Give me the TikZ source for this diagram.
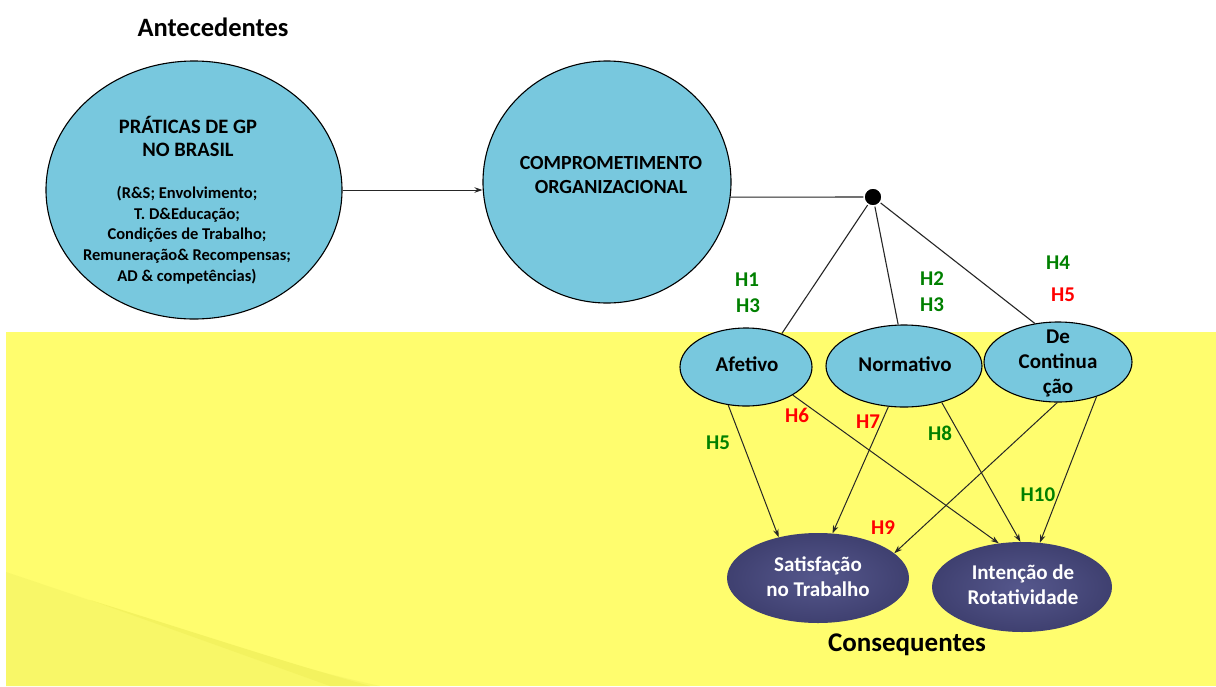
\documentclass[tikz,border=0pt]{standalone}
\usepackage{fontspec}
\setmainfont{Carlito}
\usetikzlibrary{arrows.meta,shapes.geometric}

\definecolor{skyfill}{HTML}{78C8DE}
\definecolor{navyin}{HTML}{55578C}
\definecolor{navyout}{HTML}{3F4070}
\definecolor{bandyellow}{HTML}{FFFD6E}
\definecolor{bandshade}{HTML}{F8F768}
\definecolor{bandstripe}{HTML}{F3F25F}
\definecolor{hgreen}{HTML}{008000}
\definecolor{hred}{HTML}{FF0000}

\tikzset{
  skyshape/.style={ellipse, draw=black, line width=1.1pt, fill=skyfill, inner sep=0pt},
  navyshape/.style={ellipse, inner sep=0pt, inner color=navyin, outer color=navyout},
  link/.style={draw=black!85, line width=1.1pt},
  arr/.style={draw=black!85, line width=1pt, -{Stealth[length=8pt,width=5.5pt]}},
  txt/.style={align=center, inner sep=0pt, font=\bfseries\fontsize{#1}{#1}\selectfont},
  hgood/.style={txt=21, text=hgreen},
  hbad/.style={txt=21, text=hred},
}

\begin{document}
\begin{tikzpicture}[x=1pt,y=-1pt]
\useasboundingbox (0,0) rectangle (1216,686);
\fill[white] (0,0) rectangle (1216,686);

% yellow band of the lower half, with a faint wave at its bottom left
\fill[bandyellow] (6,332) rectangle (1216,686);
\fill[bandshade] (6,572) .. controls (120,610) and (260,660) .. (380,686) -- (6,686) -- cycle;
\fill[bandstripe] (90,600) .. controls (180,632) and (280,668) .. (330,686) -- (370,686)
  .. controls (290,664) and (200,634) .. (90,600) -- cycle;

% headings
\node[txt=26.5] (antec) at (213,27) {Antecedentes};
\node[txt=27] (conseq) at (907,645) {Consequentes};

% antecedent
\node[skyshape, minimum width=296pt, minimum height=258pt] (prat) at (194,190) {};
\node[font=\bfseries\fontsize{20.5}{23.5}\selectfont, align=center, inner sep=0pt] (pratT) at (188,136.5)
  {PRÁTICAS DE GP\\NO BRASIL};
\node[font=\bfseries\fontsize{16.5}{20.8}\selectfont, align=center, inner sep=0pt] (pratS) at (187,235)
  {(R\&S; Envolvimento;\\T. D\&Educação;\\Condições de Trabalho;\\Remuneração\& Recompensas;\\AD \& competências)};

% commitment
\node[skyshape, minimum width=248pt, minimum height=242pt] (comp) at (607,182) {};
\node[font=\bfseries\fontsize{20}{24}\selectfont, align=center, inner sep=0pt] (compT) at (611,175)
  {COMPROMETIMENTO\\ORGANIZACIONAL};

% junction point
\node[circle, fill=black, draw=white, line width=1.5pt, minimum size=18pt, inner sep=0pt] (dot) at (873,197) {};

% the three components
\node[skyshape, minimum width=132pt, minimum height=78pt] (afet) at (746,367) {};
\node[txt=21] (afetT) at (747,364) {Afetivo};
\node[skyshape, minimum width=156pt, minimum height=82pt] (norm) at (904,366) {};
\node[txt=21] (normT) at (905,364) {Normativo};
\node[skyshape, minimum width=148pt, minimum height=80pt] (cont) at (1058,362) {};
\node[font=\bfseries\fontsize{21}{25}\selectfont, align=center, inner sep=0pt] (contT) at (1058,363)
  {De\\Continua\\ção};

% consequences
\node[navyshape, minimum width=182pt, minimum height=90pt] (sat) at (818,578) {};
\node[font=\bfseries\fontsize{21}{25}\selectfont, align=center, inner sep=0pt, text=white] (satT) at (818,577)
  {Satisfação\\no Trabalho};
\node[navyshape, minimum width=180pt, minimum height=90pt] (int) at (1022,587) {};
\node[font=\bfseries\fontsize{21}{25}\selectfont, align=center, inner sep=0pt, text=white] (intT) at (1023,585)
  {Intenção de\\Rotatividade};

% connectors
\draw[arr] (prat.east) -- (prat.east -| comp.west);
\draw[link] (comp.-7) -- (dot);
\draw[link] (dot) -- (afet.43);
\draw[link] (dot) -- (norm.98);
\draw[link] (dot) -- (cont.121);

\draw[arr] (afet.-115) -- (sat.134);
\draw[arr] (afet.-31) -- (int.118);
\draw[arr] (norm.-111) -- (sat.72);
\draw[arr] (norm.-44) -- (int.92);
\draw[arr] (cont.-91) -- (sat.18);
\draw[arr] (cont.-42) -- (int.68);

% hypothesis labels
\node[hgood] (h1) at (747,280) {H1};
\node[hgood] (h3a) at (748,306) {H3};
\node[hgood] (h2) at (932,279) {H2};
\node[hgood] (h3b) at (932,305) {H3};
\node[hgood] (h4) at (1058,263) {H4};
\node[hbad] (h5a) at (1063,295) {H5};
\node[hgood] (h5b) at (718,443) {H5};
\node[hbad] (h6) at (797,415) {H6};
\node[hbad] (h7) at (868,422) {H7};
\node[hgood] (h8) at (940,433) {H8};
\node[hbad] (h9) at (883,528) {H9};
\node[hgood] (h10) at (1038,495) {H10};
\end{tikzpicture}
\end{document}
